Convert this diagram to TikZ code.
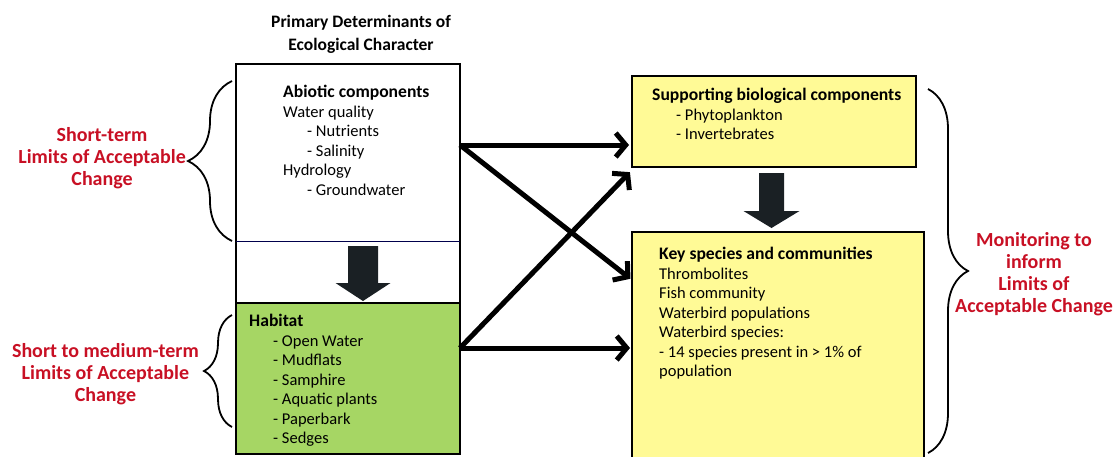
\documentclass[tikz,border=0pt]{standalone}
\usepackage{fontspec}
\setmainfont{Carlito}
\usetikzlibrary{arrows.meta,decorations.pathreplacing,calc}
\definecolor{habgreen}{RGB}{166,214,100}
\definecolor{boxyellow}{RGB}{255,250,150}
\definecolor{labred}{RGB}{200,16,36}
\definecolor{darkarrow}{RGB}{26,32,36}
\newcommand{\hd}[1]{{\fontsize{17.6}{19.5}\selectfont\bfseries #1}}
\begin{document}
\begin{tikzpicture}[x=1pt,y=-1pt,
  region/.style={anchor=north west,inner sep=0pt,outer sep=0pt},
  boxed/.style={region,draw=black,line width=2pt},
  body/.style={anchor=north west,inner sep=0pt,align=left,font=\fontsize{16.5}{19.5}\selectfont},
  redlabel/.style={align=center,inner sep=0pt,text=labred,font=\fontsize{20}{22}\selectfont\bfseries},
  conn/.style={line width=5pt,-{Straight Barb[length=10pt,width=24pt]}},
  bracket/.style={decorate,decoration={brace,amplitude=#1},line width=1.8pt},
  blockarrow/.style={fill=darkarrow}
]
\useasboundingbox (0,0) rectangle (1118,456);

% title
\node[align=center,inner sep=0pt,font=\fontsize{17.5}{23}\selectfont\bfseries] (title) at (361,34)
  {Primary Determinants of\\Ecological Character};

% left column
\node[region,minimum width=224pt,minimum height=177pt] (abiotic) at (236,64) {};
\node[boxed,fill=habgreen,minimum width=224pt,minimum height=151pt] (habitat) at (236,303) {};
\node[boxed,minimum width=224pt,minimum height=390pt] (frame) at (236,64) {};
\draw[line width=0.8pt,draw=black!70!blue] (abiotic.south west) -- (abiotic.south east);

% right column
\node[boxed,fill=boxyellow,line width=1.5pt,minimum width=284pt,minimum height=91pt] (support) at (632,76) {};
\node[boxed,fill=boxyellow,line width=1.5pt,minimum width=292pt,minimum height=226pt] (key) at (632,232) {};

% box texts
\node[body] (abiotictext) at (283,85)
  {\hd{Abiotic components}\\Water quality\\\hspace*{24pt}- Nutrients\\\hspace*{24pt}- Salinity\\Hydrology\\\hspace*{24pt}- Groundwater};
\node[body] (habitattext) at (249,314)
  {\hd{Habitat}\\\hspace*{24pt}- Open Water\\\hspace*{24pt}- Mudflats\\\hspace*{24pt}- Samphire\\\hspace*{24pt}- Aquatic plants\\\hspace*{24pt}- Paperbark\\\hspace*{24pt}- Sedges};
\node[body] (supporttext) at (652,88)
  {\hd{Supporting biological components}\\\hspace*{24pt}- Phytoplankton\\\hspace*{24pt}- Invertebrates};
\node[body] (keytext) at (659,247)
  {\hd{Key species and communities}\\Thrombolites\\Fish community\\Waterbird populations\\Waterbird species:\\- 14 species present in > 1\% of\\population};

% block arrows
\coordinate (ba1) at ($(abiotic.south)+(15,5)$);
\fill[blockarrow] ($(ba1)+(-15,0)$) -- ++(30,0) -- ++(0,37) -- ++(12.5,0)
  -- ($(habitat.north)+(15,-2)$) -- ($(ba1)+(-27.5,37)$) -- ++(12.5,0) -- cycle;
\coordinate (ba2) at ($(support.south)+(-2.5,6)$);
\fill[blockarrow] ($(ba2)+(-12.5,0)$) -- ++(25,0) -- ++(0,38) -- ++(15.5,0)
  -- ($(ba2)+(0,55)$) -- ($(ba2)+(-28,38)$) -- ++(15.5,0) -- cycle;

% connectors
\coordinate (s1) at ($(abiotic.north east)+(0,81)$);
\coordinate (s2) at ($(habitat.north east)+(0,45)$);
\coordinate (t2) at ($(key.north west)+(0,48)$);
\coordinate (t3) at ($(support.south west)+(0,3)$);
\draw[conn,shorten >=3pt] (s1) -- (support.west |- s1);
\draw[conn,shorten >=2pt] (s1) -- (t2);
\draw[conn,shorten >=3pt] (s2) -- (t3);
\draw[conn,shorten >=2pt] (s2) -- (key.west |- s2);

% braces
\draw[bracket=44pt] ($(abiotic.south west)+(-4,0)$) -- ($(abiotic.north west)+(-4,17)$);
\draw[bracket=28pt] ($(habitat.north west)+(-4,124)$) -- ($(habitat.north west)+(-4,12)$);
\draw[bracket=40pt] ($(support.north east)+(12,13)$) -- ($(key.north east)+(4,221)$);

% red labels
\node[redlabel,anchor=east] (lac1) at (186,158) {Short-term\\Limits of Acceptable\\Change};
\node[redlabel,anchor=east] (lac2) at (199,374) {Short to medium-term\\Limits of Acceptable\\Change};
\node[redlabel] (lac3) at (1034,274) {Monitoring to\\inform\\Limits of\\Acceptable Change};
\end{tikzpicture}
\end{document}
